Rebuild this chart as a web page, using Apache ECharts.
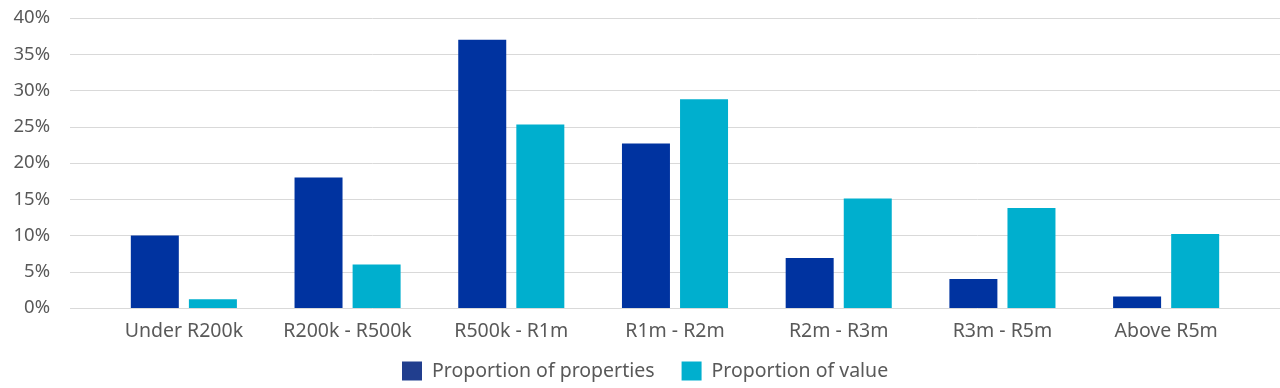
<!DOCTYPE html>
<html>
<head>
<meta charset="utf-8">
<script src="https://cdn.jsdelivr.net/npm/echarts@6/dist/echarts.min.js"></script>
<style>
html,body{margin:0;padding:0;background:#fff;}
#chart{width:1280px;height:388px;}
</style>
</head>
<body>
<div id="chart"></div>
<script>
const categories = ['Under R200k','R200k - R500k','R500k - R1m','R1m - R2m','R2m - R3m','R3m - R5m','Above R5m'];
const proportionOfProperties = [10.0, 18.0, 37.0, 22.7, 6.9, 4.0, 1.6];
const proportionOfValue = [1.2, 6.0, 25.3, 28.8, 15.1, 13.8, 10.2];
const seriesNames = ['Proportion of properties','Proportion of value'];
const yTicks = {min:0, max:40, interval:5};

const FONT = '"Noto Sans", "Open Sans", sans-serif';
const TXT = '#595959';
const chart = echarts.init(document.getElementById('chart'));
chart.setOption({
  animation:false,
  backgroundColor:'#fff',
  legend:{
    top:361, left:402, padding:0,
    icon:'rect',
    itemWidth:20, itemHeight:19, itemGap:27,
    textStyle:{fontFamily:FONT,fontSize:19.5,color:TXT,padding:[0,0,0,5]},
    data:[
      {name:seriesNames[0], itemStyle:{color:'#213E8E'}},
      {name:seriesNames[1], itemStyle:{color:'#00AFCE'}}
    ]
  },
  grid:[
    {left:70,right:0,top:18,bottom:80,containLabel:false},
    {left:102,right:32,top:18,bottom:80,containLabel:false}
  ],
  xAxis:[
    {gridIndex:0,type:'category',data:categories,show:false},
    {gridIndex:1,type:'category',data:categories,
     axisLine:{show:false},axisTick:{show:false},
     axisLabel:{fontFamily:FONT,fontSize:19.5,color:TXT,margin:13,interval:0}}
  ],
  yAxis:[
    {gridIndex:0,type:'value',min:yTicks.min,max:yTicks.max,interval:yTicks.interval,
     axisLine:{show:false},axisTick:{show:false},
     splitLine:{lineStyle:{color:'#d9d9d9',width:1}},
     axisLabel:{fontFamily:FONT,fontSize:18.5,color:TXT,margin:20,formatter:'{value}%'}},
    {gridIndex:1,type:'value',min:yTicks.min,max:yTicks.max,interval:yTicks.interval,show:false,
     splitLine:{show:false}}
  ],
  series:[
    {name:seriesNames[0],type:'bar',xAxisIndex:1,yAxisIndex:1,data:proportionOfProperties,
     barWidth:48,barGap:'21%',itemStyle:{color:'#0033A0'}},
    {name:seriesNames[1],type:'bar',xAxisIndex:1,yAxisIndex:1,data:proportionOfValue,
     barWidth:48,barGap:'21%',itemStyle:{color:'#00AFCE'}}
  ]
});
</script>
</body>
</html>
